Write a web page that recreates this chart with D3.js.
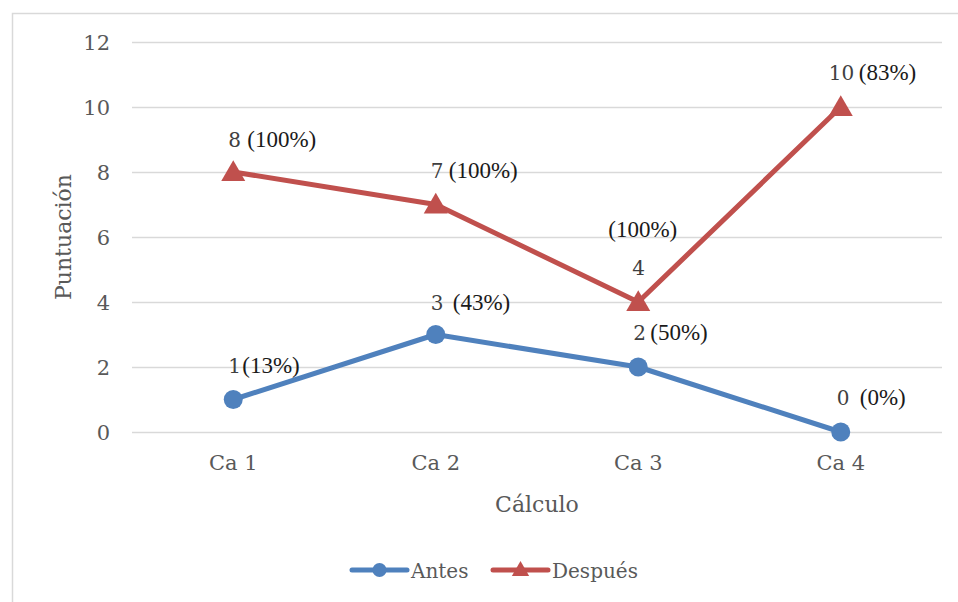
<!DOCTYPE html>
<html>
<head>
<meta charset="utf-8">
<script src="https://cdn.jsdelivr.net/npm/d3@7"></script>
<style>
  html, body { margin: 0; padding: 0; background: #fff; }
  svg { display: block; }
</style>
</head>
<body>
<svg id="chart" width="958" height="602"></svg>
<script>
// Scores per calculation task, before and after
const categories = ["Ca 1", "Ca 2", "Ca 3", "Ca 4"];
const antes = [1, 3, 2, 0];
const despues = [8, 7, 4, 10];
const antesPct = ["(13%)", "(43%)", "(50%)", "(0%)"];
const despuesPct = ["(100%)", "(100%)", "(100%)", "(83%)"];
const yTicks = [0, 2, 4, 6, 8, 10, 12];

// Label placement offsets relative to each point: number (nx, ny), percent (px, py)
const antesLabelPos = [
  { nx: -5, ny: -27, px: 9, py: -27 },
  { nx: -5, ny: -25, px: 17, py: -25 },
  { nx: -5, ny: -27, px: 12, py: -27 },
  { nx: -4, ny: -27, px: 19, py: -27 }
];
const despuesLabelPos = [
  { nx: -5, ny: -25, px: 14, py: -25 },
  { nx: -5, ny: -27, px: 13, py: -27 },
  { nx: -6, ny: -27, px: -30, py: -65 },
  { nx: -12, ny: -27, px: 18, py: -27 }
];

const svg = d3.select("#chart");
const axisFont = "'DejaVu Serif', serif";
const labelFont = "'Liberation Serif', 'Times New Roman', serif";
const axisColor = "#595959";
const gridColor = "#d9d9d9";
const blue = "#4f81bd";
const red = "#c0504d";

// Chart frame
svg.append("rect")
  .attr("x", 12.5).attr("y", 13.5)
  .attr("width", 1000).attr("height", 700)
  .attr("fill", "none").attr("stroke", gridColor).attr("stroke-width", 1.5);

const plot = { left: 132, right: 942, top: 42, bottom: 432 };

const x = d3.scaleBand().domain(categories).range([plot.left, plot.right]);
const xc = c => x(c) + x.bandwidth() / 2;
const y = d3.scaleLinear().domain([0, 12]).range([plot.bottom, plot.top]);

// Gridlines and y labels
const yAxis = d3.axisLeft(y).tickValues(yTicks).tickSize(-(plot.right - plot.left)).tickPadding(22);
const gy = svg.append("g").attr("transform", `translate(${plot.left},0)`).call(yAxis);
gy.select(".domain").remove();
gy.selectAll(".tick line").attr("stroke", gridColor).attr("stroke-width", 1.5);
gy.selectAll(".tick text")
  .attr("font-family", axisFont).attr("font-size", 21).attr("fill", axisColor)
  .attr("dy", "0.35em");

// x labels
const xAxis = d3.axisBottom(x).tickSize(0).tickPadding(23);
const gx = svg.append("g").attr("transform", `translate(0,${plot.bottom})`).call(xAxis);
gx.select(".domain").remove();
gx.selectAll(".tick text")
  .attr("font-family", axisFont).attr("font-size", 21).attr("fill", axisColor);

// Axis titles
svg.append("text")
  .attr("transform", `translate(71,${(plot.top + plot.bottom) / 2}) rotate(-90)`)
  .attr("text-anchor", "middle")
  .attr("font-family", axisFont).attr("font-size", 22).attr("fill", axisColor)
  .text("Puntuación");
svg.append("text")
  .attr("x", 537).attr("y", 512)
  .attr("text-anchor", "middle")
  .attr("font-family", axisFont).attr("font-size", 22).attr("fill", axisColor)
  .text("Cálculo");

const line = d3.line().x(d => xc(d.c)).y(d => y(d.v));
const triangle = d3.symbol().type(d3.symbolTriangle);

function drawSeries(values, color, marker, pcts, pos) {
  const pts = values.map((v, i) => ({ c: categories[i], v, pct: pcts[i], pos: pos[i] }));
  svg.append("path").datum(pts)
    .attr("d", line).attr("fill", "none")
    .attr("stroke", color).attr("stroke-width", 5).attr("stroke-linejoin", "round");
  const g = svg.append("g");
  if (marker === "circle") {
    g.selectAll("circle").data(pts).join("circle")
      .attr("cx", d => xc(d.c)).attr("cy", d => y(d.v)).attr("r", 9.5)
      .attr("fill", color);
  } else {
    g.selectAll("path").data(pts).join("path")
      .attr("d", triangle.size(250))
      .attr("transform", d => `translate(${xc(d.c)},${y(d.v) + 2})`)
      .attr("fill", color);
  }
  const lg = svg.append("g");
  lg.selectAll("text.num").data(pts).join("text").attr("class", "num")
    .attr("x", d => xc(d.c) + d.pos.nx).attr("y", d => y(d.v) + d.pos.ny)
    .attr("font-family", axisFont).attr("font-size", 20).attr("fill", "#404040")
    .text(d => d.v);
  lg.selectAll("text.pct").data(pts).join("text").attr("class", "pct")
    .attr("x", d => xc(d.c) + d.pos.px).attr("y", d => y(d.v) + d.pos.py)
    .attr("font-family", labelFont).attr("font-size", 23).attr("fill", "#1a1a1a")
    .text(d => d.pct);
}

drawSeries(despues, red, "triangle", despuesPct, despuesLabelPos);
drawSeries(antes, blue, "circle", antesPct, antesLabelPos);

// Legend
const legendItems = [
  { name: "Antes", color: blue, marker: "circle", x: 352 },
  { name: "Después", color: red, marker: "triangle", x: 493 }
];
const ly = 570;
legendItems.forEach(it => {
  const g = svg.append("g");
  g.append("line")
    .attr("x1", it.x).attr("x2", it.x + 55).attr("y1", ly).attr("y2", ly)
    .attr("stroke", it.color).attr("stroke-width", 5).attr("stroke-linecap", "round");
  if (it.marker === "circle") {
    g.append("circle").attr("cx", it.x + 27.5).attr("cy", ly).attr("r", 7).attr("fill", it.color);
  } else {
    g.append("path").attr("d", d3.symbol().type(d3.symbolTriangle).size(130)())
      .attr("transform", `translate(${it.x + 27.5},${ly + 1})`).attr("fill", it.color);
  }
  g.append("text")
    .attr("x", it.x + 59).attr("y", ly + 8)
    .attr("font-family", axisFont).attr("font-size", 20).attr("fill", axisColor)
    .text(it.name);
});
</script>
</body>
</html>
